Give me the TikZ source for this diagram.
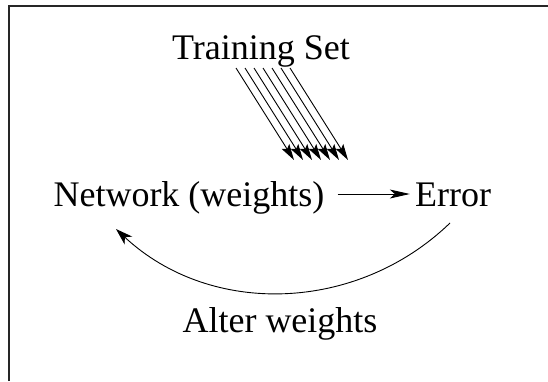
\documentclass[tikz,border=0pt]{standalone}
\usepackage{fontspec}
\setmainfont{Liberation Serif}
\usetikzlibrary{arrows.meta}
\begin{document}
\begin{tikzpicture}[x=1pt,y=-1pt,
  lbl/.style={inner sep=0pt, anchor=base, font=\fontsize{36}{43}\selectfont},
  frameline/.style={line width=1.2pt, draw=black!85},
  mainarrow/.style={line width=0.9pt, -{Stealth[length=20pt,width=9pt,inset=5pt]}},
  curvearrow/.style={line width=0.9pt, -{Stealth[length=17pt,width=11pt,inset=5pt]}},
  feedarrow/.style={line width=0.9pt, -{Stealth[length=16pt,width=9pt,inset=3pt]}}]
\useasboundingbox (0,0) rectangle (548,381);
\draw[frameline] (9,381) -- (9,6) -- (548,6);
\node[lbl] (ts) at (261,59) {Training Set};
\node[lbl] (net) at (189,206) {Network (weights)};
\node[lbl] (err) at (453,206) {Error};
\node[lbl] (alt) at (280,332) {Alter weights};
\draw[mainarrow] ([xshift=13pt,yshift=12pt]net.base east) -- ([xshift=-5pt,yshift=12pt]err.base west);
\coordinate (c1) at (450,223);
\coordinate (c2) at (116,229);
\draw[curvearrow] (c1) .. controls (357.6,312.3) and (211,317.6) .. (c2);
\foreach \i in {0,...,6}{
  \coordinate (s\i) at (236+9*\i,68);
  \coordinate (e\i) at (294+9*\i,160);
  \draw[feedarrow] (s\i) -- (e\i);
}
\end{tikzpicture}
\end{document}
